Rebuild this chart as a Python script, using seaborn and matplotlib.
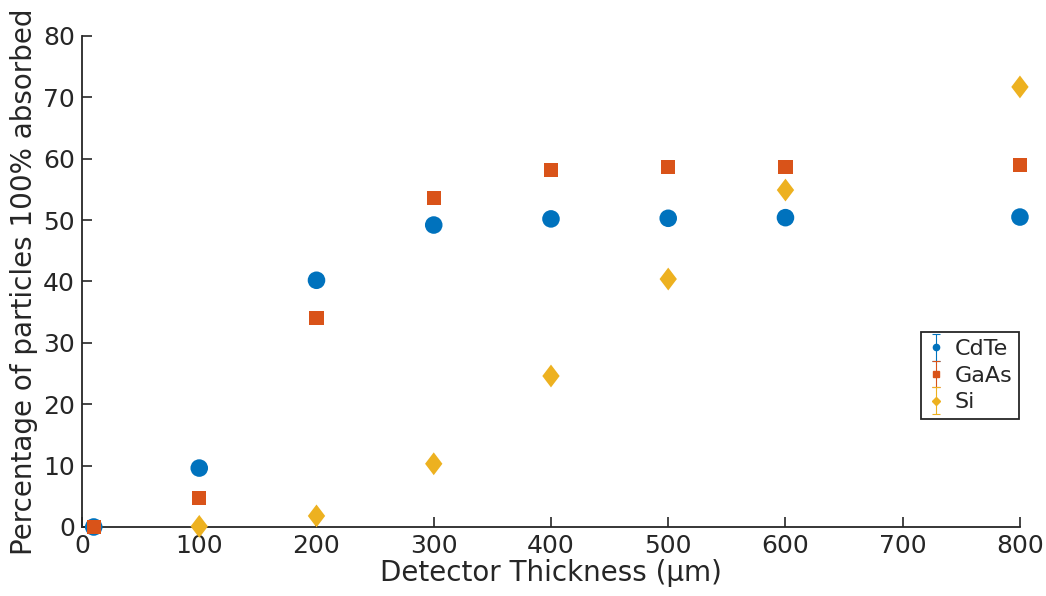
import numpy as np
import pandas as pd
import matplotlib
matplotlib.use("Agg")
import matplotlib.pyplot as plt
import seaborn as sns
from matplotlib.path import Path
from matplotlib.legend_handler import HandlerErrorbar

# Data
thickness = [10, 100, 200, 300, 400, 500, 600, 800]
cdte = [0.0, 9.6, 40.2, 49.2, 50.2, 50.3, 50.4, 50.5]
gaas = [0.0, 4.7, 34.0, 53.6, 58.2, 58.6, 58.7, 59.0]
si_thickness = [100, 200, 300, 400, 500, 600, 800]
si = [0.1, 1.8, 10.3, 24.6, 40.4, 54.9, 71.7]
materials = ["CdTe", "GaAs", "Si"]
x_ticks = [0, 100, 200, 300, 400, 500, 600, 700, 800]
y_ticks = [0, 10, 20, 30, 40, 50, 60, 70, 80]

colors = {"CdTe": "#0072BD", "GaAs": "#D95319", "Si": "#EDB120"}

sns.set_theme(style="ticks")
plt.rcParams['font.family'] = ['DejaVu Sans']
plt.rcParams['axes.edgecolor'] = '#262626'
plt.rcParams['xtick.color'] = '#262626'
plt.rcParams['ytick.color'] = '#262626'
plt.rcParams['text.color'] = '#262626'
plt.rcParams['axes.labelcolor'] = '#262626'

fig = plt.figure(figsize=(10.46, 5.96), dpi=100)
ax = fig.add_axes([0.0784, 0.1158, 0.8967, 0.8238])

diamond = Path([(0, 1), (0.76, 0), (0, -1), (-0.76, 0), (0, 1)],
               [Path.MOVETO, Path.LINETO, Path.LINETO, Path.LINETO, Path.CLOSEPOLY])

df_c = pd.DataFrame({"x": thickness, "y": cdte})
df_g = pd.DataFrame({"x": thickness, "y": gaas})
df_s = pd.DataFrame({"x": si_thickness, "y": si})

sns.scatterplot(data=df_c, x="x", y="y", ax=ax, marker="o", s=160,
                color=colors["CdTe"], edgecolor="none", clip_on=False, zorder=3)
sns.scatterplot(data=df_g, x="x", y="y", ax=ax, marker="s", s=105,
                color=colors["GaAs"], edgecolor="none", clip_on=False, zorder=3)
sns.scatterplot(data=df_s, x="x", y="y", ax=ax, marker=diamond, s=270,
                color=colors["Si"], edgecolor="none", clip_on=False, zorder=3)

ax.set_xlim(0, 800)
ax.set_ylim(0, 80)
ax.set_xticks(x_ticks)
ax.set_yticks(y_ticks)
ax.tick_params(direction="in", length=7, width=1.2, labelsize=18, pad=5)
for sp in ["top", "right"]:
    ax.spines[sp].set_visible(False)
for sp in ["left", "bottom"]:
    ax.spines[sp].set_linewidth(1.3)

ax.set_xlabel("Detector Thickness (\u03bcm)", fontsize=20, labelpad=1)
ax.set_ylabel("Percentage of particles 100% absorbed", fontsize=20, labelpad=4)

# Legend with errorbar style handles
handles = []
mk = {"CdTe": "o", "GaAs": "s", "Si": "D"}
for m in materials:
    h = ax.errorbar([np.nan], [np.nan], yerr=[1], fmt=mk[m], ms=4.5,
                    color=colors[m], ecolor=colors[m], elinewidth=0.8,
                    capsize=3, capthick=0.8)
    handles.append(h)
leg = ax.legend(handles, materials, loc="lower left",
                bbox_to_anchor=(0.894, 0.22), fontsize=16, frameon=True,
                fancybox=False, edgecolor="#262626", framealpha=1,
                handlelength=0.8, handletextpad=0.45, borderpad=0.3,
                labelspacing=0.3, borderaxespad=0,
                handler_map={type(handles[0]): HandlerErrorbar(yerr_size=0.6)})
leg.get_frame().set_linewidth(1.3)

fig.savefig("out.png", dpi=100)
